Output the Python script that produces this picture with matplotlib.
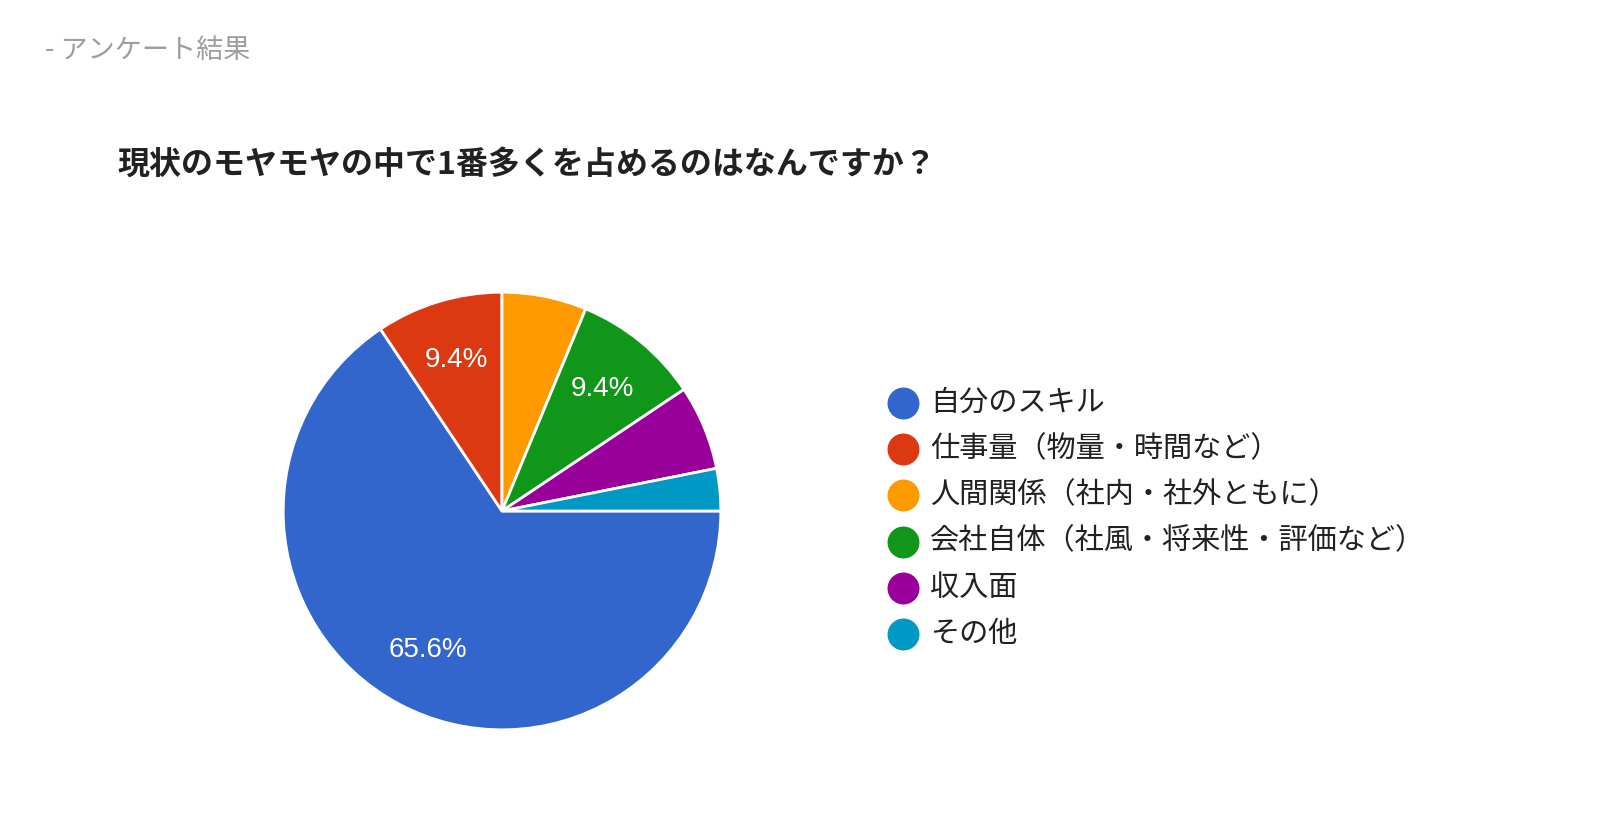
import matplotlib.pyplot as plt
from matplotlib.lines import Line2D

plt.rcParams['font.family'] = ['Noto Sans CJK JP', 'DejaVu Sans']

labels = ["自分のスキル", "仕事量（物量・時間など）", "人間関係（社内・社外ともに）",
          "会社自体（社風・将来性・評価など）", "収入面", "その他"]
counts = [21, 3, 2, 3, 2, 1]
colors = ["#3366cc", "#dc3912", "#ff9900", "#109618", "#990099", "#0099c6"]

W, H = 1608, 818
fig = plt.figure(figsize=(W / 100, H / 100), dpi=100)
ax = fig.add_axes([281 / W, (H - 732) / H, 442 / W, 442 / H])

def pct(p):
    return f"{p:.1f}%" if p > 8 else ""

wedges, texts, autos = ax.pie(counts, colors=colors, startangle=0, counterclock=False,
                              autopct=pct, pctdistance=0.72,
                              wedgeprops=dict(edgecolor="white", linewidth=2),
                              textprops=dict(color="white", fontsize=20, family="Liberation Sans"))
ax.set_xlim(-1.01, 1.01)
ax.set_ylim(-1.01, 1.01)
ax.set_aspect("equal")

fig.text(45 / W, 1 - 50 / H, "- アンケート結果", fontsize=19.5, color="#9e9e9e", va="center")
fig.text(118 / W, 1 - 165 / H, "現状のモヤモヤの中で1番多くを占めるのはなんですか？",
         fontsize=23, fontweight="bold", color="#212121", va="center")

for i, (lab, c) in enumerate(zip(labels, colors)):
    y = 1 - (403 + i * 46.2) / H
    fig.add_artist(Line2D([903 / W], [y], marker="o", markersize=22, color=c,
                          transform=fig.transFigure))
    fig.text(930 / W, y, lab, fontsize=21, color="#212121", va="center")

fig.savefig("out.png", dpi=100, facecolor="white")
